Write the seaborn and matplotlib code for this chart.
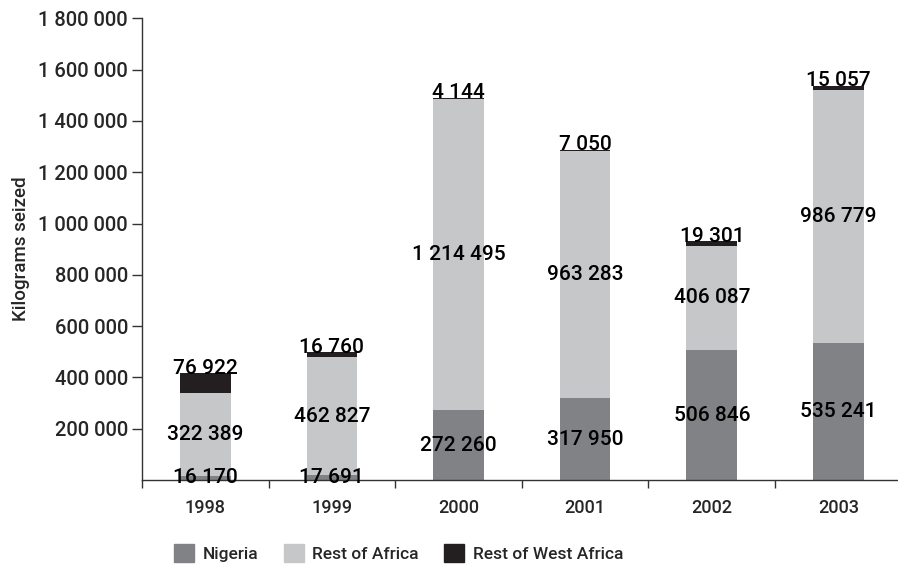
import numpy as np
import pandas as pd
import matplotlib
matplotlib.use('Agg')
import matplotlib.pyplot as plt
import matplotlib.patches as mpatches
from matplotlib.ticker import FuncFormatter
import seaborn as sns

# values (kg seized)
years = ['1998', '1999', '2000', '2001', '2002', '2003']
nigeria = [16170, 17691, 272260, 317950, 506846, 535241]
rest_africa = [322389, 462827, 1214495, 963283, 406087, 986779]
rest_west_africa = [76922, 16760, 4144, 7050, 19301, 15057]

series = ['Nigeria', 'Rest of Africa', 'Rest of West Africa']
colours = ['#818285', '#c6c7c9', '#231f20']

df = pd.DataFrame({'year': years, 'Nigeria': nigeria,
                   'Rest of Africa': rest_africa,
                   'Rest of West Africa': rest_west_africa})
df['mid'] = df['Nigeria'] + df['Rest of Africa']
df['total'] = df['mid'] + df['Rest of West Africa']

sns.set_style('ticks')
plt.rcParams['font.family'] = ['Roboto', 'DejaVu Sans']
plt.rcParams['font.weight'] = 500
plt.rcParams['axes.labelweight'] = 500

fig = plt.figure(figsize=(8.98, 5.69), dpi=100)
ax = fig.add_axes([0.158, 0.1564, 0.842, 0.8114])

# stacked bars drawn by layering cumulative totals
for col, c in zip(['total', 'mid', 'Nigeria'], colours[::-1]):
    sns.barplot(data=df, x='year', y=col, color=c, width=0.4,
                saturation=1, linewidth=0, edgecolor='none', ax=ax)

fmt = lambda v: f'{int(v):,}'.replace(',', ' ')

for i, row in df.iterrows():
    ax.text(i, row['Nigeria'] / 2, fmt(row['Nigeria']), ha='center',
            va='center', fontsize=15, color='black')
    ax.text(i, row['Nigeria'] + row['Rest of Africa'] / 2,
            fmt(row['Rest of Africa']), ha='center', va='center',
            fontsize=15, color='black')
    ax.annotate(fmt(row['Rest of West Africa']), (i, row['total']),
                xytext=(0, -0.5), textcoords='offset points', ha='center',
                va='baseline', fontsize=15, color='black')

ax.set_xlim(-0.5, 5.47)
ax.set_ylim(0, 1800000)
ax.set_yticks(np.arange(200000, 1800001, 200000))
ax.yaxis.set_major_formatter(FuncFormatter(lambda v, p: fmt(v)))
ax.set_xticks(np.arange(-0.5, 5.5, 1), minor=False)
ax.set_xticks(range(6), minor=True)
ax.set_xticklabels([])
ax.set_xticklabels(years, minor=True)
ax.tick_params(axis='x', which='major', length=6, width=1, color='#333333')
ax.tick_params(axis='x', which='minor', length=0, labelsize=13, pad=14)
ax.tick_params(axis='y', length=7, width=1, color='#333333', labelsize=14.5,
               pad=3)
ax.set_xlabel('')
ax.set_ylabel('Kilograms seized', fontsize=13.5, labelpad=6)

sns.despine(ax=ax)
for s in ['left', 'bottom']:
    ax.spines[s].set_color('#333333')
    ax.spines[s].set_linewidth(1)

handles = [mpatches.Patch(color=c, label=s) for c, s in zip(colours, series)]
fig.legend(handles=handles, loc='center', bbox_to_anchor=(0.444, 0.028),
           ncol=3, frameon=False, fontsize=12.5, handlelength=1.15,
           handleheight=1.15, handletextpad=0.5, columnspacing=1.45)

fig.savefig('out.png', dpi=100)
